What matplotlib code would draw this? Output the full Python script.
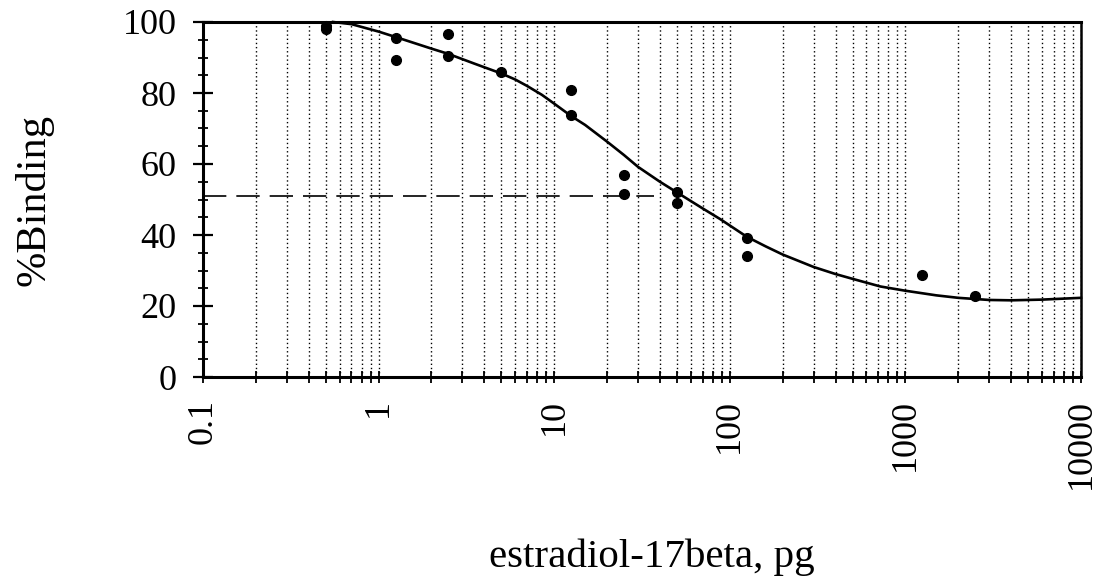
import matplotlib
matplotlib.use("Agg")
import matplotlib.pyplot as plt
from matplotlib.ticker import LogLocator, FixedLocator, MultipleLocator, NullFormatter

# ---- data ----
dose = [0.5, 0.5, 1.25, 1.25, 2.5, 2.5, 5, 12.5, 12.5, 25, 25, 50, 50, 125, 125, 1250, 2500]
binding = [99, 98, 95.4, 89.3, 96.6, 90.5, 85.8, 80.8, 73.7, 56.8, 51.6, 52.0, 49.1, 39.2, 34.0, 28.6, 22.7]

fit_x = [0.55, 0.7, 1, 1.3, 2, 2.5, 3.5, 5, 6, 7, 8.5, 10, 12.5, 15, 20, 25, 30, 40, 50, 70, 88,
         125, 160, 200, 300, 400, 513, 720, 1000, 1500, 2000, 3000, 4000, 6000, 10000]
fit_y = [100, 99.4, 97.3, 95.5, 92.5, 91, 88.3, 85.5, 83.8, 82, 79.5, 77, 73.5, 71, 66.3, 62.5,
         59.2, 55, 52, 47.5, 44.5, 39.5, 36.8, 34.5, 31, 29, 27.5, 25.5, 24.3, 23, 22.3, 21.7,
         21.6, 21.8, 22.3]

half_x = [0.1, 37]
half_y = [51, 51]

x_ticks = [0.1, 1, 10, 100, 1000, 10000]
x_labels = ["0.1", "1", "10", "100", "1000", "10000"]
y_ticks = [0, 20, 40, 60, 80, 100]

plt.rcParams['font.family'] = ['Liberation Serif', 'DejaVu Serif']

fig = plt.figure(figsize=(11.03, 5.85), dpi=100)
ax = fig.add_axes([203/1103, 1-377/585, (1081-203)/1103, (377-22)/585])

ax.set_xscale('log')
ax.set_xlim(0.1, 10000)
ax.set_ylim(0, 100)

# vertical dotted grid on every major and minor decade tick
ax.xaxis.set_major_locator(FixedLocator(x_ticks))
ax.xaxis.set_minor_locator(LogLocator(base=10, subs=range(2, 10), numticks=50))
ax.xaxis.set_minor_formatter(NullFormatter())
ax.set_xticklabels(x_labels, rotation=90, fontsize=26)
ax.grid(True, axis='x', which='both', color='black', linestyle=(0, (1, 2)), linewidth=1.0)

ax.yaxis.set_major_locator(FixedLocator(y_ticks))
ax.yaxis.set_minor_locator(MultipleLocator(5))
ax.set_yticklabels([str(v) for v in y_ticks], fontsize=26)

ax.tick_params(axis='y', which='major', direction='inout', length=14, width=1.6, pad=12)
ax.tick_params(axis='y', which='minor', direction='inout', length=7, width=1.3)
ax.tick_params(axis='x', which='both', direction='inout', length=8, width=1.3, pad=12)
ax.tick_params(axis='x', which='major', pad=12)

for side in ['left', 'bottom', 'top']:
    ax.spines[side].set_linewidth(2.2)
ax.spines['right'].set_linewidth(1.8)

ax.plot(half_x, half_y, color='black', linewidth=1.2, linestyle=(0, (14, 6)))
ax.plot(fit_x, fit_y, color='black', linewidth=1.9, clip_on=False)
ax.plot(dose, binding, linestyle='none', marker='o', markersize=7, color='black', clip_on=False)

ax.set_ylabel('%Binding', fontsize=30.5, labelpad=50)
fig.text(652/1103, 1-557/585, 'estradiol-17beta, pg', fontsize=29.5, ha='center', va='center')

fig.savefig('out.png', dpi=100, facecolor='white')
